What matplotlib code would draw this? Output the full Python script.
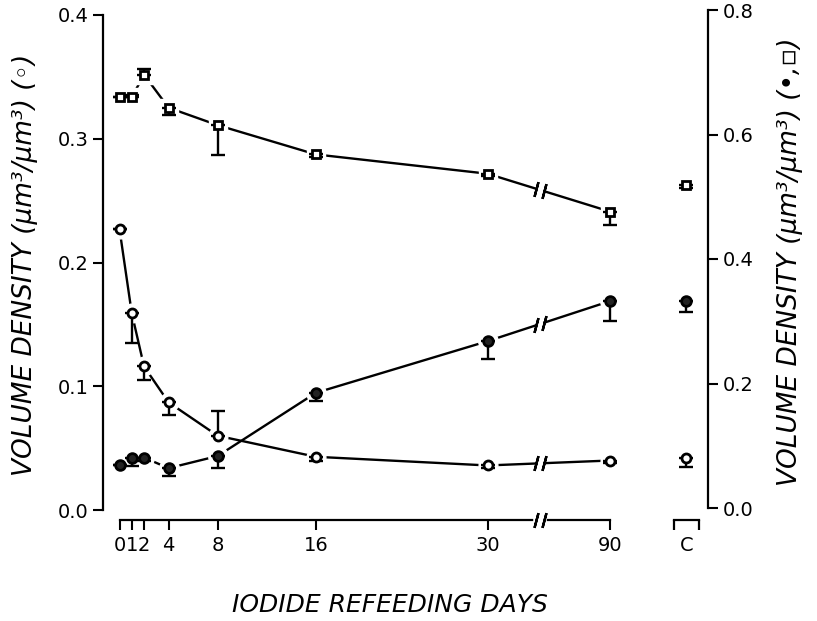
import numpy as np
import matplotlib
matplotlib.use('Agg')
import matplotlib.pyplot as plt
import matplotlib.transforms as mtransforms

# x axis: days 0-30 on a linear scale, 90 and the control group after the break
DAY_LABELS = ['0', '1', '2', '4', '8', '16', '30', '90']
DAY_POS = [0, 1, 2, 4, 8, 16, 30, 40]
CTRL_POS = 46.2
CTRL_LABEL = 'C'
BREAK_X = 34.3

# open circles (left axis)
open_vals = [0.227, 0.159, 0.116, 0.087, 0.060, 0.043, 0.036, 0.040]
open_lo = [0, 0.024, 0.011, 0.010, 0, 0.003, 0.002, 0.002]
open_hi = [0, 0, 0, 0, 0.020, 0, 0, 0]
open_ctrl, open_ctrl_lo = 0.042, 0.007

# open squares (right axis)
sq_vals = [0.661, 0.660, 0.696, 0.643, 0.615, 0.568, 0.537, 0.476]
sq_lo = [0, 0, 0, 0.011, 0.048, 0.004, 0.004, 0.021]
sq_hi = [0, 0.004, 0.009, 0, 0, 0, 0, 0]
sq_ctrl, sq_ctrl_lo = 0.519, 0.005

# filled circles (right axis)
fill_vals = [0.069, 0.080, 0.081, 0.064, 0.0835, 0.185, 0.268, 0.3325]
fill_lo = [0, 0.013, 0.005, 0.012, 0.0195, 0.013, 0.029, 0.032]
fill_hi = [0, 0, 0, 0, 0, 0, 0, 0]
fill_ctrl, fill_ctrl_lo = 0.3325, 0.017

LW = 1.7
GAP = 0.33


def draw_series(ax, vals, lo, hi, ctrl, ctrl_lo, marker, face, ms):
    x = np.array(DAY_POS, dtype=float)
    y = np.array(vals, dtype=float)
    # line with a break between the last two points
    slope = (y[-1] - y[-2]) / (x[-1] - x[-2])
    xa, xb = BREAK_X - GAP, BREAK_X + GAP
    ya = y[-2] + slope * (xa - x[-2])
    yb = y[-2] + slope * (xb - x[-2])
    ax.plot(list(x[:-1]) + [xa], list(y[:-1]) + [ya], color='k', lw=LW, zorder=2)
    ax.plot([xb, x[-1]], [yb, y[-1]], color='k', lw=LW, zorder=2)
    ax.plot([xa, xb], [ya, yb], ls='none', marker=(2, 2, -15), ms=11,
            mew=LW, color='k', zorder=2)

    allx = list(x) + [CTRL_POS]
    ally = list(y) + [ctrl]
    # white halo so the lines stop short of the markers
    ax.plot(allx, ally, ls='none', marker=marker, ms=ms + 7, color='white',
            mec='white', zorder=3)
    ax.errorbar(allx, ally, yerr=[list(lo) + [ctrl_lo], list(hi) + [0]],
                fmt='none', ecolor='k', elinewidth=LW, capsize=5,
                capthick=LW, zorder=4)
    ax.plot(allx, ally, ls='none', marker=marker, ms=ms, mfc=face, mec='k',
            mew=2.0, zorder=5)


W, H = 817, 621
fig = plt.figure(figsize=(W / 100, H / 100), dpi=100)
ax_left, ax_right = 103, 708
ax_top, ax_bot = 10, 510
ax = fig.add_axes([ax_left / W, 1 - ax_bot / H, (ax_right - ax_left) / W,
                   (ax_bot - ax_top) / H])
ax2 = ax.twinx()

# left axis: 0.0 at bottom, 0.4 five pixels under the top
ax.set_ylim(0, 0.4 * 500 / 495)
ax2.set_ylim(-0.8 * 2 / 498, 0.8)
px_per_day = 12.27
ax.set_xlim((ax_left - 119.5) / px_per_day, (ax_right - 119.5) / px_per_day)

for a in (ax, ax2):
    a.spines['top'].set_visible(False)
    a.tick_params(direction='out', length=7.5, width=1.5, labelsize=14, pad=3)

ax.spines['right'].set_visible(False)
ax.spines['left'].set_bounds(0, 0.4)
ax.spines['left'].set_linewidth(1.6)
ax.set_yticks([0.0, 0.1, 0.2, 0.3, 0.4])
ax.set_yticklabels(['0.0', '0.1', '0.2', '0.3', '0.4'])

ax2.spines['left'].set_visible(False)
ax2.spines['bottom'].set_visible(False)
ax2.spines['right'].set_bounds(0, 0.8)
ax2.spines['right'].set_linewidth(1.6)
ax2.set_yticks([0.0, 0.2, 0.4, 0.6, 0.8])
ax2.set_yticklabels(['0.0', '0.2', '0.4', '0.6', '0.8'])

# bottom axis, shifted down and broken between 30 and 90
off = 7.2
ax.spines['bottom'].set_position(('outward', off))
ax.spines['bottom'].set_bounds(0, DAY_POS[-1])
ax.spines['bottom'].set_linewidth(1.6)
ax.set_xticks(DAY_POS + [CTRL_POS])
ax.set_xticklabels(DAY_LABELS + [CTRL_LABEL])
ax.tick_params(axis='x', length=7.5, pad=4)
ax.xaxis.get_major_ticks()[-1].tick1line.set_visible(False)

trans = ax.get_xaxis_transform() + mtransforms.ScaledTranslation(
    0, -off / 72, fig.dpi_scale_trans)
ax.plot([BREAK_X - GAP, BREAK_X + GAP], [0, 0], color='white', lw=4,
        transform=trans, clip_on=False, zorder=3)
ax.plot([BREAK_X - GAP, BREAK_X + GAP], [0, 0], ls='none', marker=(2, 2, -15),
        ms=11, mew=LW, color='k', transform=trans, clip_on=False, zorder=4)
# bracket under the control group
ax.plot([CTRL_POS - 1.0, CTRL_POS + 1.0], [0, 0], color='k', lw=1.6,
        marker=3, ms=7.5, mew=1.6, transform=trans, clip_on=False)

draw_series(ax, open_vals, open_lo, open_hi, open_ctrl, open_ctrl_lo,
            'o', 'white', 6.5)
draw_series(ax2, sq_vals, sq_lo, sq_hi, sq_ctrl, sq_ctrl_lo, 's', 'white', 6)
draw_series(ax2, fill_vals, fill_lo, fill_hi, fill_ctrl, fill_ctrl_lo,
            'o', '#222222', 7)

lab = dict(fontsize=19, style='italic', rotation=90, ha='center', va='center')
fig.text(25 / W, 1 - 265 / H, 'VOLUME DENSITY (μm³/μm³) (◦)', **lab)
fig.text(790 / W, 1 - 262 / H, 'VOLUME DENSITY (μm³/μm³) (•,▫)', **lab)
fig.text(390 / W, 1 - 605 / H, 'IODIDE REFEEDING DAYS', fontsize=18,
         style='italic', ha='center', va='center')

fig.savefig('out.png', dpi=100)
